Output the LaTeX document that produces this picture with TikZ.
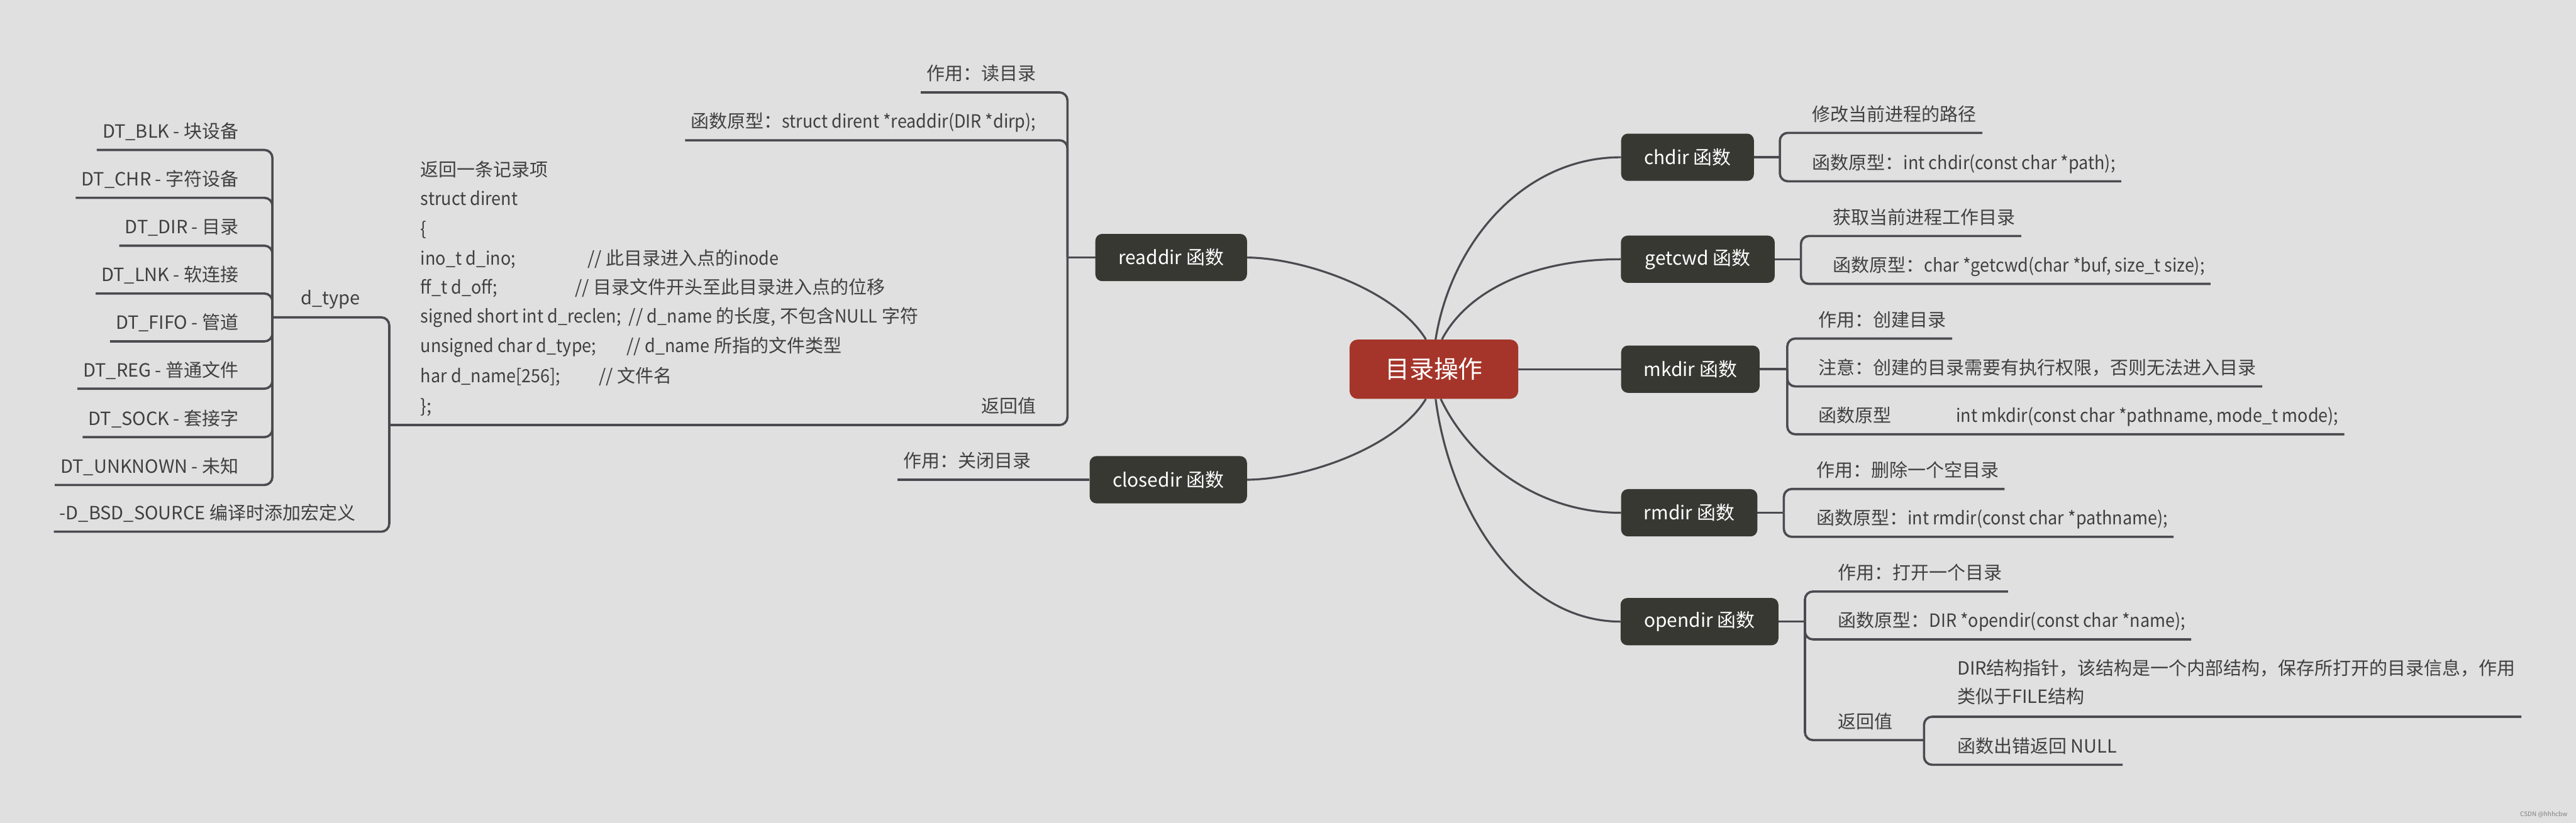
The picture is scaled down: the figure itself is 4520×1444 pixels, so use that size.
\documentclass[tikz,border=0pt]{standalone}
\usepackage{fontspec}
\setmainfont{Noto Sans CJK SC}
\newfontfamily\lat[FakeStretch=0.93]{Noto Sans CJK SC}
\definecolor{bgC}{HTML}{E0E0E0}
\definecolor{lineC}{HTML}{4A4A50}
\definecolor{nodeC}{HTML}{383833}
\definecolor{rootC}{HTML}{A5352A}
\definecolor{textC}{HTML}{404040}
\begin{document}
\begin{tikzpicture}[x=1pt,y=-1pt,
  ln/.style={draw=lineC,line width=4pt,rounded corners=14pt},
  cv/.style={draw=lineC,line width=3.5pt},
  fn/.style={fill=nodeC,rounded corners=12pt,text=white,font=\fontsize{33}{40}\selectfont,minimum height=83pt,inner sep=0pt},
  root/.style={fill=rootC,rounded corners=14pt,text=white,font=\fontsize{43}{50}\selectfont,minimum width=296pt,minimum height=104pt,inner sep=0pt},
  leaf/.style={text=textC,font=\fontsize{32}{40}\selectfont,text height=28pt,text depth=4pt,inner xsep=10pt,inner ysep=17pt},
  cline/.style={text=textC,font=\fontsize{32}{40}\selectfont,text height=28pt,text depth=4pt,inner sep=0pt,anchor=west},
  wm/.style={text=gray,font=\fontsize{11}{13}\selectfont,inner sep=0pt}
]
\fill[bgC] (0,0) rectangle (4520,1444);
\useasboundingbox (0,0) rectangle (4520,1444);

% main nodes
\node[root] (root) at (2516,648) {目录操作};
\node[fn,minimum width=266pt] (readdir) at (2055,452) {readdir 函数};
\node[fn,minimum width=276pt] (closedir) at (2050,842) {closedir 函数};
\node[fn,minimum width=233pt] (chdir) at (2961,276) {chdir 函数};
\node[fn,minimum width=270pt] (getcwd) at (2979,455) {getcwd 函数};
\node[fn,minimum width=243pt] (mkdir) at (2966,648) {mkdir 函数};
\node[fn,minimum width=239pt] (rmdir) at (2964,900) {rmdir 函数};
\node[fn,minimum width=277pt] (opendir) at (2982,1091) {opendir 函数};

% central curves
\draw[cv] (readdir.east) .. controls (2290,453) and (2450,510) .. ([xshift=-14pt]root.north);
\draw[cv] (closedir.east) .. controls (2290,841) and (2450,786) .. ([xshift=-14pt]root.south);
\draw[cv] ([xshift=3pt]root.north) .. controls (2545,430) and (2670,276) .. (chdir.west);
\draw[cv] ([xshift=14pt]root.north) .. controls (2575,510) and (2690,455) .. (getcwd.west);
\draw[cv] (root.east) -- (mkdir.west);
\draw[cv] ([xshift=12pt]root.south) .. controls (2575,800) and (2690,900) .. (rmdir.west);
\draw[cv] ([xshift=3pt]root.south) .. controls (2545,900) and (2670,1091) .. (opendir.west);

% chdir
\coordinate (chB) at (3123,276);
\node[leaf,anchor=west] (ch1) at (3170,200) {修改当前进程的路径};
\node[leaf,anchor=west] (ch2) at (3170,285) {函数原型：{\lat int chdir(const char *path);}};
\draw[ln] (chdir.east) -- (chB);
\draw[ln] (chB) |- (ch1.south east);
\draw[ln] (chB) |- (ch2.south east);

% getcwd
\coordinate (gB) at (3160,455);
\node[leaf,anchor=west] (g1) at (3206,381) {获取当前进程工作目录};
\node[leaf,anchor=west] (g2) at (3206,465) {函数原型：{\lat char *getcwd(char *buf, size\_t size);}};
\draw[ln] (getcwd.east) -- (gB);
\draw[ln] (gB) |- (g1.south east);
\draw[ln] (gB) |- (g2.south east);

% mkdir
\coordinate (mB) at (3136,648);
\node[leaf,anchor=west] (m1) at (3181,561) {作用：创建目录};
\node[leaf,anchor=west] (m2) at (3181,645) {注意：创建的目录需要有执行权限，否则无法进入目录};
\node[leaf,anchor=west] (m3a) at (3181,729) {函数原型};
\node[leaf,anchor=west] (m3b) at (3422,729) {\lat int mkdir(const char *pathname, mode\_t mode);};
\draw[ln] (mkdir.east) -- (mB);
\draw[ln] (mB) |- (m1.south east);
\draw[ln] (mB) |- (m2.south east);
\draw[ln] (mB) |- (m3b.south east);

% rmdir
\coordinate (rB) at (3130,900);
\node[leaf,anchor=west] (r1) at (3177,825) {作用：删除一个空目录};
\node[leaf,anchor=west] (r2) at (3177,909) {函数原型：{\lat int rmdir(const char *pathname);}};
\draw[ln] (rmdir.east) -- (rB);
\draw[ln] (rB) |- (r1.south east);
\draw[ln] (rB) |- (r2.south east);

% opendir
\coordinate (oB) at (3167,1091);
\coordinate (oB2) at (3376,1299);
\node[leaf,anchor=west] (o1) at (3215,1005) {作用：打开一个目录};
\node[leaf,anchor=west] (o2) at (3215,1089) {函数原型：{\lat DIR *opendir(const char *name);}};
\node[leaf,anchor=west] (o3) at (3215,1266) {返回值};
\node[text=textC,font=\fontsize{32}{50}\selectfont,align=left,inner xsep=10pt,inner ysep=0pt,anchor=north west] (o4) at (3424,1157) {DIR结构指针，该结构是一个内部结构，保存所打开的目录信息，作用\\类似于FILE结构};
\node[leaf,anchor=west] (o5) at (3424,1309) {函数出错返回 NULL};
\draw[ln] (opendir.east) -- (oB);
\draw[ln] (oB) |- (o1.south east);
\draw[ln] (oB) |- (o2.south east);
\draw[ln] (oB) |- (oB2);
\draw[ln] (oB2) |- (o4.east |- 0,1258);
\draw[ln] (oB2) |- (o5.south east);

% closedir
\node[leaf,anchor=east] (cl1) at (1819,808) {作用：关闭目录};
\draw[ln] (closedir.west) -- (cl1.south west |- closedir.west);

% readdir
\coordinate (rdB) at (1873,452);
\coordinate (blk) at (683,746);
\node[leaf,anchor=east] (rd1) at (1828,129) {作用：读目录};
\node[leaf,anchor=east] (rd2) at (1828,213) {函数原型：{\lat struct dirent *readdir(DIR *dirp);}};
\node[leaf,anchor=east] (rd3) at (1828,712) {返回值};
\draw[ln] (readdir.west) -- (rdB);
\draw[ln] (rdB) |- (rd1.south west);
\draw[ln] (rdB) |- (rd2.south west);
\draw[ln] (rdB) |- (blk);

% struct block
\node[cline] (b1) at (738,297) {返回一条记录项};
\node[cline] (b2) at (738,348) {\lat struct dirent};
\node[cline] (b3) at (738,401) {\{};
\node[cline] (b4) at (738,453) {\lat ino\_t d\_ino;};
\node[cline] (b4c) at (1031,453) {// 此目录进入点的{\lat inode}};
\node[cline] (b5) at (738,504) {\lat ff\_t d\_off;};
\node[cline] (b5c) at (1009,504) {// 目录文件开头至此目录进入点的位移};
\node[cline] (b6) at (738,555) {\lat signed short int d\_reclen;};
\node[cline] (b6c) at (1103,555) {// {\lat d\_name} 的长度, 不包含{\lat NULL} 字符};
\node[cline] (b7) at (738,607) {\lat unsigned char d\_type;};
\node[cline] (b7c) at (1099,607) {// {\lat d\_name} 所指的文件类型};
\node[cline] (b8) at (738,660) {\lat har d\_name[256];};
\node[cline] (b8c) at (1051,660) {// 文件名};
\node[cline] (b9) at (738,712) {\};};

% d_type and BSD
\coordinate (dtB) at (478,557);
\node[leaf] (dtype) at (580,523) {d\_type};
\node[leaf,anchor=east] (bsd) at (634,900) {-D\_BSD\_SOURCE 编译时添加宏定义};
\draw[ln] (blk) |- (dtB);
\draw[ln] (blk) |- (bsd.south west);

\node[leaf,anchor=east] (dt1) at (429,230) {DT\_BLK - 块设备};
\node[leaf,anchor=east] (dt2) at (429,314) {DT\_CHR - 字符设备};
\node[leaf,anchor=east] (dt3) at (429,398) {DT\_DIR - 目录};
\node[leaf,anchor=east] (dt4) at (429,482) {DT\_LNK - 软连接};
\node[leaf,anchor=east] (dt5) at (429,566) {DT\_FIFO - 管道};
\node[leaf,anchor=east] (dt6) at (429,649) {DT\_REG - 普通文件};
\node[leaf,anchor=east] (dt7) at (429,734) {DT\_SOCK - 套接字};
\node[leaf,anchor=east] (dt8) at (429,818) {DT\_UNKNOWN - 未知};
\foreach \k in {1,...,8} { \draw[ln] (dtB) |- (dt\k.south west); }

\node[wm,anchor=east] (wmk) at (4505,1430) {CSDN @hhhcbw};
\end{tikzpicture}
\end{document}
